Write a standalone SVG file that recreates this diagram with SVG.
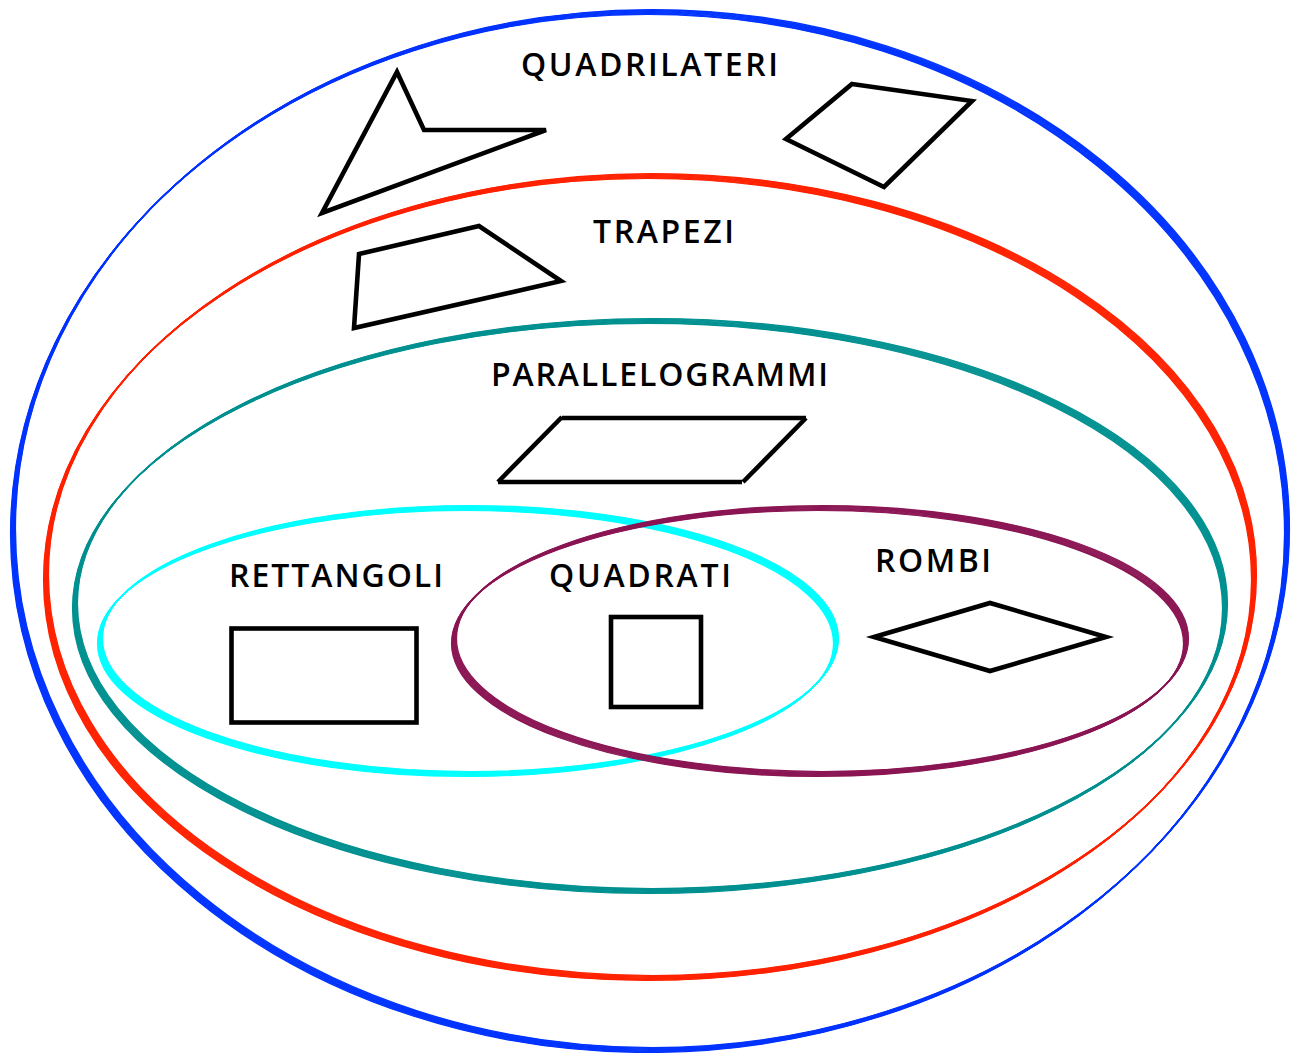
<svg xmlns="http://www.w3.org/2000/svg" xmlns:xlink="http://www.w3.org/1999/xlink" width="1294" height="1053" viewBox="0 0 1294 1053">
  <style>
    .ring { fill: none; stroke-width: 1.2; }
    .label { font-family: "Open Sans", "Noto Sans", "DejaVu Sans", sans-serif; font-size: 32px; font-weight: 600; fill: #000; }
    .shape { fill: none; stroke: #000; stroke-width: 4.6; stroke-linejoin: miter; }
  </style>
  <defs>
    <!-- set outlines; each is stamped several times along a 45° nib to get a pen-like stroke -->
    <ellipse id="e-quadrilateri" cx="650" cy="531" rx="637" ry="519"/>
    <ellipse id="e-trapezi" cx="650" cy="577" rx="604" ry="401"/>
    <ellipse id="e-parallelogrammi" cx="650" cy="606" rx="575" ry="285"/>
    <ellipse id="e-rettangoli" cx="468" cy="641" rx="368" ry="133"/>
    <ellipse id="e-rombi" cx="820" cy="641" rx="366" ry="133"/>
  </defs>

  <rect width="1294" height="1053" fill="#fff"/>

  <g id="quadrilateri">
    <g class="ring" stroke="#0033ff">
      <use href="#e-quadrilateri" transform="translate(-2.475,2.475)"/>
      <use href="#e-quadrilateri" transform="translate(-1.98,1.98)"/>
      <use href="#e-quadrilateri" transform="translate(-1.485,1.485)"/>
      <use href="#e-quadrilateri" transform="translate(-0.99,0.99)"/>
      <use href="#e-quadrilateri" transform="translate(-0.495,0.495)"/>
      <use href="#e-quadrilateri"/>
      <use href="#e-quadrilateri" transform="translate(0.495,-0.495)"/>
      <use href="#e-quadrilateri" transform="translate(0.99,-0.99)"/>
      <use href="#e-quadrilateri" transform="translate(1.485,-1.485)"/>
      <use href="#e-quadrilateri" transform="translate(1.98,-1.98)"/>
      <use href="#e-quadrilateri" transform="translate(2.475,-2.475)"/>
    </g>
    <text class="label" x="521" y="76" textLength="257" lengthAdjust="spacing">QUADRILATERI</text>
    <polygon class="shape" points="397,72 424,130 546,130 322,213"/>
    <polygon class="shape" points="852,84 972,101 884,187 786,139"/>
  </g>

  <g id="trapezi">
    <g class="ring" stroke="#ff2200">
      <use href="#e-trapezi" transform="translate(-2.475,2.475)"/>
      <use href="#e-trapezi" transform="translate(-1.98,1.98)"/>
      <use href="#e-trapezi" transform="translate(-1.485,1.485)"/>
      <use href="#e-trapezi" transform="translate(-0.99,0.99)"/>
      <use href="#e-trapezi" transform="translate(-0.495,0.495)"/>
      <use href="#e-trapezi"/>
      <use href="#e-trapezi" transform="translate(0.495,-0.495)"/>
      <use href="#e-trapezi" transform="translate(0.99,-0.99)"/>
      <use href="#e-trapezi" transform="translate(1.485,-1.485)"/>
      <use href="#e-trapezi" transform="translate(1.98,-1.98)"/>
      <use href="#e-trapezi" transform="translate(2.475,-2.475)"/>
    </g>
    <text class="label" x="593" y="243" textLength="141" lengthAdjust="spacing">TRAPEZI</text>
    <polygon class="shape" points="359,254 479,226 561,281 354,328"/>
  </g>

  <g id="parallelogrammi">
    <g class="ring" stroke="#009090">
      <use href="#e-parallelogrammi" transform="translate(-2.475,2.475)"/>
      <use href="#e-parallelogrammi" transform="translate(-1.98,1.98)"/>
      <use href="#e-parallelogrammi" transform="translate(-1.485,1.485)"/>
      <use href="#e-parallelogrammi" transform="translate(-0.99,0.99)"/>
      <use href="#e-parallelogrammi" transform="translate(-0.495,0.495)"/>
      <use href="#e-parallelogrammi"/>
      <use href="#e-parallelogrammi" transform="translate(0.495,-0.495)"/>
      <use href="#e-parallelogrammi" transform="translate(0.99,-0.99)"/>
      <use href="#e-parallelogrammi" transform="translate(1.485,-1.485)"/>
      <use href="#e-parallelogrammi" transform="translate(1.98,-1.98)"/>
      <use href="#e-parallelogrammi" transform="translate(2.475,-2.475)"/>
    </g>
    <text class="label" x="491" y="386" textLength="337" lengthAdjust="spacing">PARALLELOGRAMMI</text>
    <g class="shape">
      <line x1="562" y1="418" x2="806" y2="418"/>
      <line x1="806" y1="418" x2="743" y2="482"/>
      <line x1="742" y1="482" x2="498" y2="482"/>
      <line x1="498" y1="482" x2="562" y2="417"/>
    </g>
  </g>

  <g id="rettangoli">
    <g class="ring" stroke="#00ffff">
      <use href="#e-rettangoli" transform="translate(-2.475,2.475)"/>
      <use href="#e-rettangoli" transform="translate(-1.98,1.98)"/>
      <use href="#e-rettangoli" transform="translate(-1.485,1.485)"/>
      <use href="#e-rettangoli" transform="translate(-0.99,0.99)"/>
      <use href="#e-rettangoli" transform="translate(-0.495,0.495)"/>
      <use href="#e-rettangoli"/>
      <use href="#e-rettangoli" transform="translate(0.495,-0.495)"/>
      <use href="#e-rettangoli" transform="translate(0.99,-0.99)"/>
      <use href="#e-rettangoli" transform="translate(1.485,-1.485)"/>
      <use href="#e-rettangoli" transform="translate(1.98,-1.98)"/>
      <use href="#e-rettangoli" transform="translate(2.475,-2.475)"/>
    </g>
    <text class="label" x="229" y="587" textLength="214" lengthAdjust="spacing">RETTANGOLI</text>
    <rect class="shape" x="231.5" y="628.5" width="185" height="94"/>
  </g>

  <g id="rombi">
    <g class="ring" stroke="#8b1654">
      <use href="#e-rombi" transform="translate(-2.475,2.475)"/>
      <use href="#e-rombi" transform="translate(-1.98,1.98)"/>
      <use href="#e-rombi" transform="translate(-1.485,1.485)"/>
      <use href="#e-rombi" transform="translate(-0.99,0.99)"/>
      <use href="#e-rombi" transform="translate(-0.495,0.495)"/>
      <use href="#e-rombi"/>
      <use href="#e-rombi" transform="translate(0.495,-0.495)"/>
      <use href="#e-rombi" transform="translate(0.99,-0.99)"/>
      <use href="#e-rombi" transform="translate(1.485,-1.485)"/>
      <use href="#e-rombi" transform="translate(1.98,-1.98)"/>
      <use href="#e-rombi" transform="translate(2.475,-2.475)"/>
    </g>
    <text class="label" x="875" y="572" textLength="116" lengthAdjust="spacing">ROMBI</text>
    <polygon class="shape" points="874,637 990,603 1106,637 990,671"/>
  </g>

  <g id="quadrati">
    <text class="label" x="549" y="587" textLength="182" lengthAdjust="spacing">QUADRATI</text>
    <rect class="shape" x="611" y="617" width="90" height="90"/>
  </g>
</svg>
